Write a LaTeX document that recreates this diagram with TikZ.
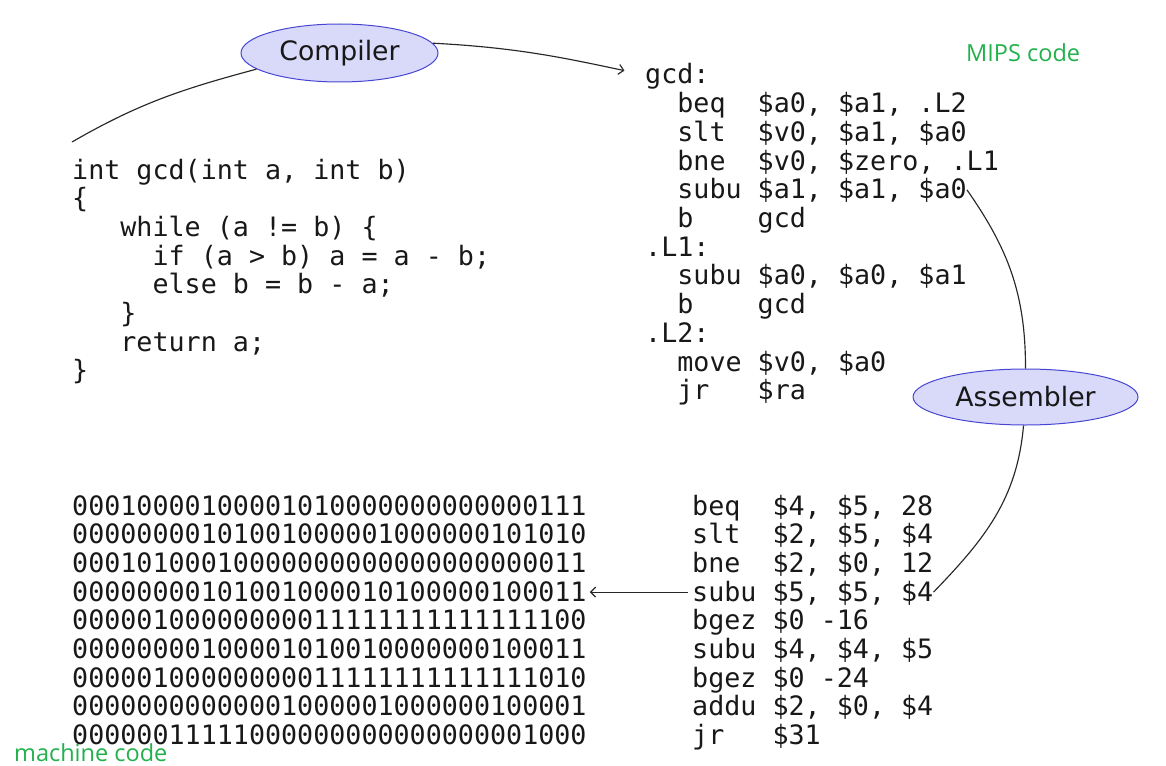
\documentclass[tikz,border=0pt]{standalone}
\usepackage{fontspec}
\setmonofont{DejaVu Sans Mono}
\newfontfamily\bubblefont{DejaVu Sans}
\newfontfamily\notefont{Open Sans}
\usetikzlibrary{shapes.geometric,arrows.meta}

% one column of the monospaced font
\newcommand\col[1]{\hspace*{#1\fontcharwd\font`0}}

\definecolor{ink}{RGB}{24,24,24}
\definecolor{wire}{RGB}{40,40,40}
\definecolor{bubblefill}{RGB}{217,217,250}
\definecolor{bubbleedge}{RGB}{70,70,210}
\definecolor{notegreen}{RGB}{34,177,76}

\tikzset{
  codeline/.style={anchor=base west, inner sep=0pt, text=ink,
    font=\ttfamily\fontsize{26.7}{28.7}\selectfont,
    text height=21pt, text depth=3pt},
  bubble/.style={ellipse, draw=bubbleedge, fill=bubblefill, line width=1pt,
    inner sep=0pt, text=ink, font=\bubblefont\fontsize{26.7}{30}\selectfont},
  note/.style={anchor=base west, inner sep=0pt, text=notegreen,
    font=\notefont\fontsize{23.5}{26}\selectfont},
  conn/.style={draw=wire, line width=1.15pt},
  tip/.style={-{Straight Barb[length=5pt,width=10pt]}},
}

\begin{document}
\begin{tikzpicture}[x=1pt,y=-1pt]
\useasboundingbox (0,0) rectangle (1166,765);

% C source
\node[codeline] (c1) at (72,179.0) {int gcd(int a, int b)};
\node[codeline] (c2) at (72,207.7) {\{};
\node[codeline] (c3) at (72,236.4) {\col{3}while (a != b) \{};
\node[codeline] (c4) at (72,265.1) {\col{5}if (a > b) a = a - b;};
\node[codeline] (c5) at (72,293.8) {\col{5}else b = b - a;};
\node[codeline] (c6) at (72,322.5) {\col{3}\}};
\node[codeline] (c7) at (72,351.2) {\col{3}return a;};
\node[codeline] (c8) at (72,379.9) {\}};

% MIPS assembly
\node[codeline] (gcd)   at (645,84.0)  {gcd:};
\node[codeline] (m1)    at (645,112.7) {\col{2}beq\col{2}\$a0, \$a1, .L2};
\node[codeline] (m2)    at (645,141.4) {\col{2}slt\col{2}\$v0, \$a1, \$a0};
\node[codeline] (m3)    at (645,170.1) {\col{2}bne\col{2}\$v0, \$zero, .L1};
\node[codeline] (subu1) at (645,198.8) {\col{2}subu \$a1, \$a1, \$a0};
\node[codeline] (m5)    at (645,227.5) {\col{2}b\col{4}gcd};
\node[codeline] (l1)    at (645,256.2) {.L1:};
\node[codeline] (m6)    at (645,284.9) {\col{2}subu \$a0, \$a0, \$a1};
\node[codeline] (m7)    at (645,313.6) {\col{2}b\col{4}gcd};
\node[codeline] (l2)    at (645,342.3) {.L2:};
\node[codeline] (m8)    at (645,371.0) {\col{2}move \$v0, \$a0};
\node[codeline] (m9)    at (645,399.7) {\col{2}jr\col{3}\$ra};

% machine code
\node[codeline] (b1) at (72,515.0) {00010000100001010000000000000111};
\node[codeline] (b2) at (72,543.7) {00000000101001000001000000101010};
\node[codeline] (b3) at (72,572.4) {00010100010000000000000000000011};
\node[codeline] (b4) at (72,601.1) {00000000101001000010100000100011};
\node[codeline] (b5) at (72,629.8) {00000100000000011111111111111100};
\node[codeline] (b6) at (72,658.5) {00000000100001010010000000100011};
\node[codeline] (b7) at (72,687.2) {00000100000000011111111111111010};
\node[codeline] (b8) at (72,715.9) {00000000000001000001000000100001};
\node[codeline] (b9) at (72,744.6) {00000011111000000000000000001000};

% assembled instructions
\node[codeline] (a1)    at (692,515.0) {beq\col{2}\$4, \$5, 28};
\node[codeline] (a2)    at (692,543.7) {slt\col{2}\$2, \$5, \$4};
\node[codeline] (a3)    at (692,572.4) {bne\col{2}\$2, \$0, 12};
\node[codeline] (subu2) at (692,601.1) {subu \$5, \$5, \$4};
\node[codeline] (a5)    at (692,629.8) {bgez \$0 -16};
\node[codeline] (a6)    at (692,658.5) {subu \$4, \$4, \$5};
\node[codeline] (a7)    at (692,687.2) {bgez \$0 -24};
\node[codeline] (a8)    at (692,715.9) {addu \$2, \$0, \$4};
\node[codeline] (a9)    at (692,744.6) {jr\col{3}\$31};

% tools
\node[bubble, minimum width=197pt, minimum height=58pt] (comp) at (339.5,53) {Compiler};
\node[bubble, minimum width=225pt, minimum height=56pt] (asm) at (1025.5,397) {Assembler};

% captions
\node[note] (mips) at (966,62) {MIPS code};
\node[note] (mach) at (14,761) {machine code};

% connectors
\coordinate (cstart) at (72,142);
\draw[conn] (cstart) to[out=30,in=195] (comp.191);
\draw[conn,tip,shorten >=21pt] (comp.6) to[out=-3,in=168] (gcd.west);
\draw[conn] (subu1.east) to[out=-55,in=90] (asm.north);
\draw[conn] (asm.266) to[out=-95,in=46] (subu2.east);
\draw[conn,tip,shorten <=4pt,shorten >=3pt] (subu2.west) -- (b4.east);
\end{tikzpicture}
\end{document}
